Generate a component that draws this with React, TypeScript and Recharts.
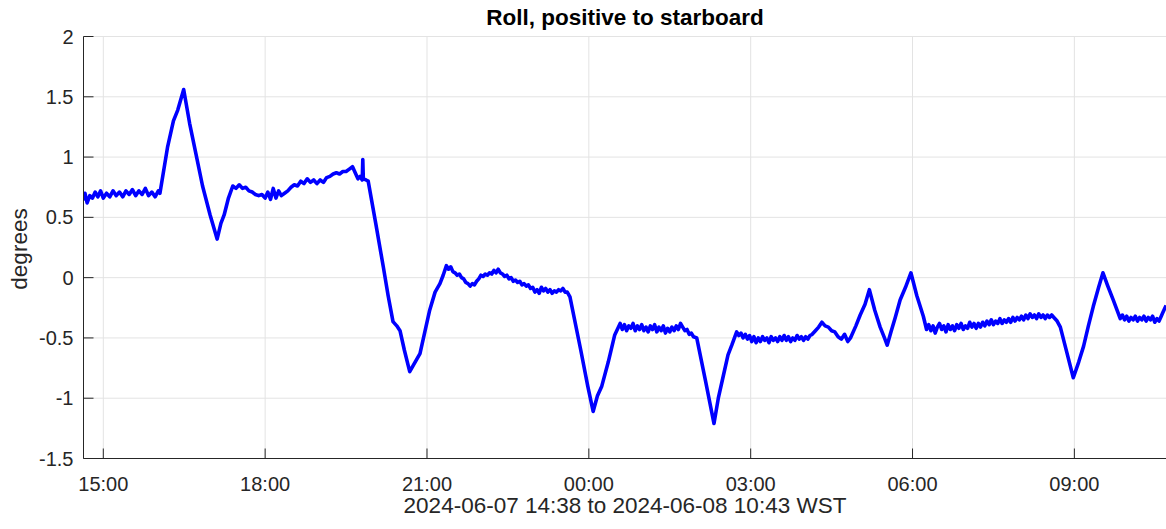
import React from 'react'
import { LineChart, Line, XAxis, YAxis, CartesianGrid } from 'recharts'

// [hours since midnight 2024-06-07 (values > 24 are the next day), roll in degrees]
const rollSamples: [number, number][] = [
  // steady start
  [14.63, 0.64], [14.66, 0.7], [14.7, 0.62], [14.75, 0.68], [14.8, 0.66], [14.85, 0.71], [14.9, 0.67], [14.95, 0.72],
  [15.0, 0.66], [15.06, 0.7], [15.12, 0.67], [15.18, 0.72], [15.24, 0.68], [15.3, 0.71], [15.36, 0.67], [15.42, 0.72],
  [15.48, 0.69], [15.54, 0.73], [15.6, 0.68], [15.66, 0.72], [15.72, 0.69], [15.78, 0.74], [15.84, 0.68], [15.9, 0.71],
  [15.96, 0.67], [16.02, 0.72], [16.05, 0.7],
  // peak and dip
  [16.19, 1.08], [16.3, 1.3], [16.38, 1.39], [16.49, 1.56], [16.6, 1.28], [16.72, 1.02], [16.84, 0.76], [16.98, 0.52],
  [17.11, 0.32], [17.18, 0.45], [17.24, 0.52], [17.32, 0.66],
  // slow climb
  [17.4, 0.76], [17.46, 0.74], [17.52, 0.77], [17.58, 0.74], [17.64, 0.75], [17.7, 0.72], [17.76, 0.71], [17.82, 0.69],
  [17.88, 0.68], [17.94, 0.69], [18.0, 0.66], [18.05, 0.71], [18.1, 0.65], [18.15, 0.74], [18.2, 0.66], [18.25, 0.72],
  [18.3, 0.68], [18.36, 0.7], [18.42, 0.72], [18.48, 0.75], [18.54, 0.77], [18.6, 0.76], [18.66, 0.8], [18.72, 0.78],
  [18.78, 0.82], [18.84, 0.79], [18.9, 0.81], [18.96, 0.78], [19.02, 0.81], [19.08, 0.79], [19.14, 0.83], [19.2, 0.84],
  [19.26, 0.86], [19.32, 0.87], [19.38, 0.86], [19.44, 0.88], [19.5, 0.88], [19.56, 0.9], [19.62, 0.92], [19.68, 0.86],
  [19.72, 0.82], [19.76, 0.84], [19.8, 0.81], [19.81, 0.98], [19.82, 0.82], [19.87, 0.81], [19.91, 0.8],
  // big drop
  [20.05, 0.45], [20.19, 0.09], [20.28, -0.15], [20.37, -0.365], [20.44, -0.4], [20.5, -0.44], [20.58, -0.6],
  [20.68, -0.78], [20.78, -0.7], [20.87, -0.63], [20.96, -0.45], [21.05, -0.27], [21.15, -0.12], [21.24, -0.05],
  [21.3, 0.02],
  // near zero
  [21.36, 0.1], [21.4, 0.07], [21.44, 0.09], [21.48, 0.05], [21.52, 0.04], [21.56, 0.02], [21.6, 0.03], [21.64, 0.0],
  [21.68, -0.01], [21.72, -0.04], [21.76, -0.05], [21.8, -0.07], [21.84, -0.05], [21.88, -0.06], [21.92, -0.03],
  [21.96, -0.01], [22.0, 0.02], [22.04, 0.01], [22.08, 0.03], [22.12, 0.02], [22.16, 0.04], [22.2, 0.03], [22.24, 0.06],
  [22.28, 0.04], [22.32, 0.07], [22.36, 0.04], [22.4, 0.03], [22.44, 0.01], [22.48, 0.02], [22.52, -0.01], [22.56, 0.0],
  [22.6, -0.03], [22.64, -0.02], [22.68, -0.04], [22.72, -0.03], [22.76, -0.06], [22.8, -0.05], [22.84, -0.07],
  [22.88, -0.06], [22.92, -0.09], [22.96, -0.08], [23.0, -0.12], [23.04, -0.1], [23.08, -0.13], [23.12, -0.08],
  [23.16, -0.11], [23.2, -0.09], [23.24, -0.12], [23.28, -0.1], [23.32, -0.13], [23.36, -0.11], [23.4, -0.12],
  [23.44, -0.1], [23.48, -0.11], [23.52, -0.09], [23.56, -0.12], [23.6, -0.12], [23.65, -0.16],
  // dip at midnight
  [23.85, -0.6], [23.98, -0.9], [24.08, -1.11], [24.16, -0.98], [24.24, -0.9], [24.36, -0.7], [24.48, -0.475],
  [24.58, -0.38], [24.62, -0.43], [24.66, -0.39], [24.7, -0.44], [24.74, -0.4], [24.78, -0.42], [24.82, -0.38],
  [24.86, -0.44], [24.9, -0.4], [24.94, -0.43], [24.98, -0.39], [25.02, -0.44], [25.06, -0.41], [25.1, -0.45],
  [25.14, -0.4], [25.18, -0.43], [25.22, -0.39], [25.26, -0.45], [25.3, -0.41], [25.34, -0.44], [25.38, -0.4],
  [25.42, -0.46], [25.46, -0.42], [25.5, -0.45], [25.54, -0.41], [25.58, -0.44], [25.62, -0.4], [25.66, -0.43],
  [25.7, -0.38], [25.74, -0.41], [25.78, -0.44], [25.82, -0.43], [25.86, -0.47], [25.9, -0.46], [25.94, -0.49],
  [26.0, -0.5],
  // dip after 02:00
  [26.16, -0.85], [26.32, -1.21], [26.4, -1.0], [26.49, -0.82], [26.58, -0.64], [26.65, -0.56],
  [26.74, -0.45], [26.78, -0.48], [26.82, -0.46], [26.86, -0.5], [26.9, -0.47], [26.94, -0.51], [26.98, -0.48],
  [27.02, -0.53], [27.06, -0.49], [27.1, -0.54], [27.14, -0.5], [27.18, -0.53], [27.22, -0.49], [27.26, -0.52],
  [27.3, -0.5], [27.34, -0.54], [27.38, -0.49], [27.42, -0.52], [27.46, -0.5], [27.5, -0.53], [27.54, -0.49],
  [27.58, -0.52], [27.62, -0.48], [27.66, -0.52], [27.7, -0.49], [27.74, -0.53], [27.78, -0.5], [27.82, -0.52],
  [27.86, -0.48], [27.9, -0.51], [27.94, -0.49], [27.98, -0.52], [28.02, -0.49], [28.06, -0.51], [28.1, -0.48],
  [28.14, -0.47], [28.2, -0.44], [28.26, -0.41], [28.32, -0.37], [28.38, -0.4], [28.44, -0.41], [28.5, -0.44],
  [28.56, -0.45], [28.62, -0.49], [28.68, -0.51], [28.74, -0.47], [28.8, -0.53], [28.85, -0.5],
  // double peak before 06:00
  [28.95, -0.4], [29.03, -0.31], [29.12, -0.22], [29.2, -0.1], [29.3, -0.27], [29.4, -0.41], [29.48, -0.5],
  [29.53, -0.56], [29.6, -0.45], [29.68, -0.33], [29.77, -0.185], [29.87, -0.08], [29.97, 0.04], [30.08, -0.15],
  [30.2, -0.32],
  // long noisy stretch
  [30.26, -0.43], [30.3, -0.39], [30.34, -0.44], [30.38, -0.4], [30.42, -0.46], [30.46, -0.41], [30.5, -0.38],
  [30.54, -0.43], [30.58, -0.4], [30.62, -0.45], [30.66, -0.39], [30.7, -0.43], [30.74, -0.4], [30.78, -0.44],
  [30.82, -0.39], [30.86, -0.42], [30.9, -0.38], [30.94, -0.43], [30.98, -0.4], [31.02, -0.42], [31.06, -0.37],
  [31.1, -0.41], [31.14, -0.38], [31.18, -0.42], [31.22, -0.38], [31.26, -0.41], [31.3, -0.37], [31.34, -0.4],
  [31.38, -0.36], [31.42, -0.39], [31.46, -0.35], [31.5, -0.39], [31.54, -0.36], [31.58, -0.38], [31.62, -0.34],
  [31.66, -0.38], [31.7, -0.35], [31.74, -0.37], [31.78, -0.34], [31.82, -0.37], [31.86, -0.33], [31.9, -0.36],
  [31.94, -0.33], [31.98, -0.35], [32.02, -0.32], [32.06, -0.35], [32.1, -0.31], [32.14, -0.34], [32.18, -0.3],
  [32.22, -0.33], [32.26, -0.31], [32.3, -0.34], [32.34, -0.3], [32.38, -0.33], [32.42, -0.31], [32.46, -0.34],
  [32.5, -0.31], [32.54, -0.33], [32.58, -0.31], [32.62, -0.33], [32.68, -0.36], [32.74, -0.41],
  // dip and peak around 09:00
  [32.86, -0.62], [32.98, -0.83], [33.08, -0.7], [33.17, -0.57], [33.26, -0.4], [33.35, -0.24], [33.45, -0.08],
  [33.53, 0.04], [33.62, -0.07], [33.72, -0.185], [33.8, -0.28],
  [33.85, -0.34], [33.89, -0.31], [33.93, -0.35], [33.97, -0.32], [34.01, -0.36], [34.05, -0.33], [34.09, -0.35],
  [34.13, -0.32], [34.17, -0.36], [34.21, -0.33], [34.25, -0.35], [34.29, -0.32], [34.33, -0.36], [34.37, -0.33],
  [34.41, -0.35], [34.45, -0.32], [34.49, -0.37], [34.53, -0.34], [34.57, -0.36], [34.61, -0.32], [34.64, -0.29],
  [34.67, -0.26], [34.7, -0.23],
]

const xTicks = [15, 18, 21, 24, 27, 30, 33]
const yTicks = [-1.5, -1, -0.5, 0, 0.5, 1, 1.5, 2]
const xDomain = [14.633, 34.717]
const yDomain = [-1.5, 2]

const title = 'Roll, positive to starboard'
const yLabel = 'degrees'
const xLabel = '2024-06-07 14:38 to 2024-06-08 10:43 WST'

const data = rollSamples.map(([h, roll]) => ({ h, roll }))

const fmtHour = (h: number) => String(Math.round(h) % 24).padStart(2, '0') + ':00'

const FONT = '"Liberation Sans", Arial, Helvetica, sans-serif'
const INK = '#262626'
const tickStyle = { fontSize: 20, fill: INK, fontFamily: FONT }

export default function App() {
  return (
    <div style={{ position: 'absolute', left: 0, top: 0, width: 1170, height: 529, background: '#fff', fontFamily: FONT, color: INK }}>
      <LineChart width={1170} height={529} data={data} margin={{ top: 36.5, right: 3, bottom: 0, left: 0 }}>
        <CartesianGrid stroke="#e3e3e3" strokeWidth={1} />
        <XAxis
          dataKey="h"
          type="number"
          domain={xDomain}
          ticks={xTicks}
          tickFormatter={fmtHour}
          allowDataOverflow
          height={70.5}
          tickSize={-10}
          tickMargin={28}
          stroke={INK}
          tick={tickStyle}
        />
        <XAxis
          xAxisId="top"
          orientation="top"
          dataKey="h"
          type="number"
          domain={xDomain}
          ticks={xTicks}
          allowDataOverflow
          height={0}
          tickSize={-10}
          tick={false}
          stroke={INK}
        />
        <YAxis
          type="number"
          domain={yDomain}
          ticks={yTicks}
          allowDataOverflow
          width={83.5}
          tickSize={-10}
          tickMargin={20}
          stroke={INK}
          tick={tickStyle}
        />
        <YAxis
          yAxisId="right"
          orientation="right"
          type="number"
          domain={yDomain}
          ticks={yTicks}
          allowDataOverflow
          width={0}
          tickSize={-10}
          tick={false}
          stroke={INK}
        />
        <Line
          dataKey="roll"
          stroke="#0000ff"
          strokeWidth={3.6}
          dot={false}
          type="linear"
          isAnimationActive={false}
          strokeLinejoin="round"
        />
      </LineChart>
      <div style={{ position: 'absolute', left: 83, width: 1084, top: 0, height: 36, lineHeight: '36px', textAlign: 'center', fontSize: 22.5, fontWeight: 'bold', color: '#000' }}>
        {title}
      </div>
      <div style={{ position: 'absolute', left: 83, width: 1084, top: 494, height: 24, lineHeight: '24px', textAlign: 'center', fontSize: 22.5 }}>
        {xLabel}
      </div>
      <div style={{ position: 'absolute', left: -80, top: 234, width: 200, height: 30, lineHeight: '30px', textAlign: 'center', fontSize: 22.5, transform: 'rotate(-90deg)' }}>
        {yLabel}
      </div>
    </div>
  )
}
